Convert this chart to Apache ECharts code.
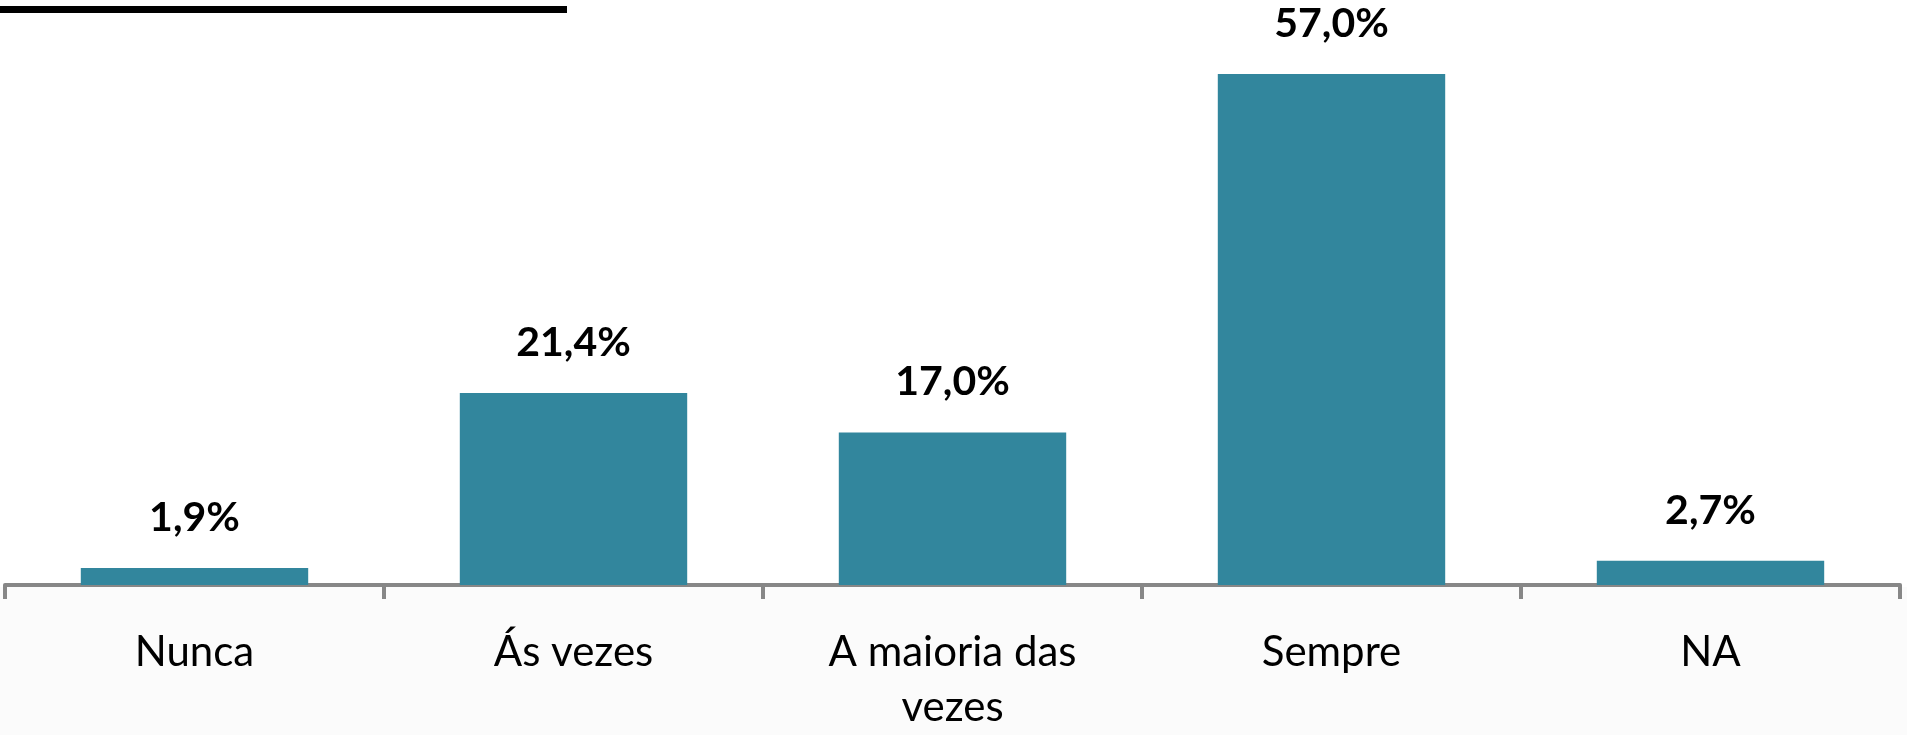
<!DOCTYPE html>
<html>
<head>
<meta charset="utf-8">
<script src="https://cdn.jsdelivr.net/npm/echarts@6/dist/echarts.min.js"></script>
<style>
  html, body { margin: 0; padding: 0; background: #ffffff; }
  #chart { width: 1907px; height: 735px; }
</style>
</head>
<body>
<div id="chart"></div>
<script>
// Survey answers (share of respondents, %)
const categories = ['Nunca', 'Ás vezes', 'A maioria das\nvezes', 'Sempre', 'NA'];
const shares = [1.9, 21.4, 17.0, 57.0, 2.7];

const barColor = '#32869d';
const axisGray = '#878787';

const chart = echarts.init(document.getElementById('chart'), null, { renderer: 'canvas' });

chart.setOption({
  backgroundColor: '#ffffff',
  animation: false,
  grid: {
    left: 5,
    right: 7,
    top: 47,
    bottom: 150,
    outerBoundsMode: 'none'
  },
  xAxis: {
    type: 'category',
    data: categories,
    boundaryGap: true,
    axisLine: { show: true, lineStyle: { color: axisGray, width: 4 } },
    axisTick: { show: true, length: 14, lineStyle: { color: axisGray, width: 4 } },
    axisLabel: {
      interval: 0,
      margin: 40,
      color: '#000000',
      fontFamily: 'Lato',
      fontSize: 42,
      lineHeight: 55
    }
  },
  yAxis: {
    type: 'value',
    min: 0,
    max: 60,
    show: false,
    splitLine: { show: false }
  },
  series: [{
    type: 'bar',
    data: shares,
    barCategoryGap: '40%',
    itemStyle: { color: barColor },
    label: {
      show: true,
      position: 'top',
      distance: 30,
      color: '#000000',
      fontFamily: 'Lato',
      fontWeight: 'bold',
      fontSize: 41,
      formatter: p => p.value.toFixed(1).replace('.', ',') + '%'
    }
  }],
  graphic: [{
    type: 'rect',
    z: -1,
    shape: { x: 0, y: 587, width: 1907, height: 148 },
    style: { fill: '#fbfbfb' }
  }, {
    type: 'rect',
    shape: { x: 0, y: 6, width: 567, height: 7 },
    style: { fill: '#000000' }
  }]
});
</script>
</body>
</html>
